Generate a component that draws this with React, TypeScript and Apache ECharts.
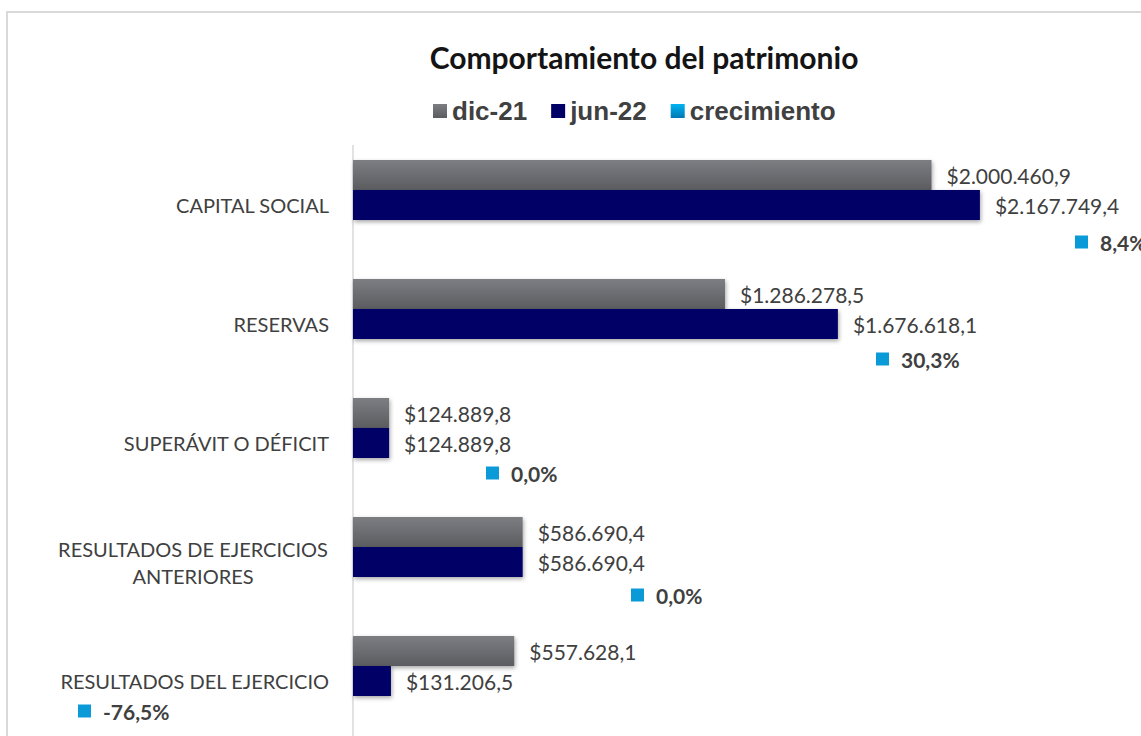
import React, { useEffect, useRef } from "react";
import * as echarts from "echarts";

const categories = [
  "CAPITAL SOCIAL",
  "RESERVAS",
  "SUPERÁVIT O DÉFICIT",
  "RESULTADOS DE EJERCICIOS\nANTERIORES",
  "RESULTADOS DEL EJERCICIO",
];
const dic21 = [2000460.9, 1286278.5, 124889.8, 586690.4, 557628.1];
const jun22 = [2167749.4, 1676618.1, 124889.8, 586690.4, 131206.5];
const growth = [8.4, 30.3, 0.0, 0.0, -76.5];
const seriesNames = ["dic-21", "jun-22", "crecimiento"];
const title = "Comportamiento del patrimonio";

// manual label placement of the growth labels (pixels relative to the bar slot)
const growthLabelPos: [number, number][] = [
  [722, 22],
  [523, 20],
  [133, 15],
  [278, 18],
  [-275, 15],
];

const TEXT = "#404040";

function fmtMoney(v: number): string {
  const [i, d] = v.toFixed(1).split(".");
  return "$" + i.replace(/\B(?=(\d{3})+(?!\d))/g, ".") + "," + d;
}
function fmtPct(v: number): string {
  return v.toFixed(1).replace(".", ",") + "%";
}

export default function App() {
  const ref = useRef<HTMLDivElement>(null);
  useEffect(() => {
    document.body.style.margin = "0";
    const chart = echarts.init(ref.current!, undefined, { renderer: "svg" });
    const grayGrad = new echarts.graphic.LinearGradient(0, 0, 0, 1, [
      { offset: 0, color: "#7c7e82" },
      { offset: 1, color: "#5b5c60" },
    ]);
    const cyanGrad = new echarts.graphic.LinearGradient(0, 0, 0, 1, [
      { offset: 0, color: "#00b4f2" },
      { offset: 1, color: "#0078b4" },
    ]);
    const shadow = {
      shadowBlur: 4,
      shadowColor: "rgba(0,0,0,0.35)",
      shadowOffsetX: 1,
      shadowOffsetY: 2,
    };
    const valueLabel = {
      show: true,
      position: "right" as const,
      distance: 15,
      color: TEXT,
      fontFamily: "Lato",
      fontSize: 21,
      formatter: (p: any) => fmtMoney(p.value),
    };
    chart.setOption({
      animation: false,
      backgroundColor: "#ffffff",
      graphic: [
        {
          type: "rect",
          shape: { x: 7, y: 12, width: 1300, height: 900 },
          style: { fill: "none", stroke: "#d9d9d9", lineWidth: 2 },
          silent: true,
        },
        {
          type: "text",
          x: 644,
          y: 57,
          style: {
            text: title,
            textAlign: "center",
            textVerticalAlign: "middle",
            fontFamily: "Lato",
            fontWeight: "bold",
            fontSize: 30,
            fill: "#141414",
          },
        },
      ],
      legend: {
        left: 433,
        top: 98,
        padding: 0,
        icon: "rect",
        itemWidth: 14,
        itemHeight: 14,
        itemGap: 24,
        textStyle: {
          fontFamily: "Liberation Sans",
          fontWeight: "bold",
          fontSize: 26,
          color: TEXT,
        },
        data: [
          { name: seriesNames[0] },
          { name: seriesNames[1] },
          { name: seriesNames[2], itemStyle: { color: cyanGrad } },
        ],
      },
      grid: { left: 353, width: 723, top: 145.5, height: 595, containLabel: false },
      xAxis: { type: "value", min: 0, max: 2500000, show: false },
      yAxis: {
        type: "category",
        data: categories,
        inverse: true,
        axisLine: { show: true, lineStyle: { color: "#d9d9d9", width: 1.5 } },
        axisTick: { show: false },
        axisLabel: {
          margin: 24,
          color: TEXT,
          fontFamily: "Lato",
          fontSize: 20,
          lineHeight: 27,
          formatter: (v: string) =>
            v.includes("\n") ? v.split("\n").map((s) => `{c|${s}}`).join("\n") : v,
          rich: {
            c: {
              width: 272,
              align: "center",
              color: TEXT,
              fontFamily: "Lato",
              fontSize: 20,
              lineHeight: 27,
            },
          },
        },
      },
      series: [
        {
          name: seriesNames[0],
          type: "bar",
          data: dic21,
          barWidth: 30,
          barGap: "0%",
          itemStyle: { color: grayGrad, ...shadow },
          label: valueLabel,
        },
        {
          name: seriesNames[1],
          type: "bar",
          data: jun22,
          barWidth: 30,
          barGap: "0%",
          itemStyle: { color: "#000066", ...shadow },
          label: valueLabel,
        },
        {
          name: seriesNames[2],
          type: "bar",
          barWidth: 30,
          barGap: "0%",
          itemStyle: { color: "transparent" },
          data: growth.map((g, i) => ({
            value: g,
            label: {
              show: true,
              position: growthLabelPos[i],
              align: "left",
              verticalAlign: "middle",
              formatter: () => `{m|}{t|${fmtPct(g)}}`,
              rich: {
                m: {
                  width: 13,
                  height: 13,
                  backgroundColor: "#0a9ad8",
                },
                t: {
                  padding: [0, 0, 0, 12],
                  fontFamily: "Lato",
                  fontWeight: "bold",
                  fontSize: 21,
                  color: TEXT,
                },
              },
            },
          })),
        },
      ],
    });
    return () => chart.dispose();
  }, []);
  return (
    <div style={{ width: 1141, height: 736, overflow: "hidden", position: "relative" }}>
      <div ref={ref} style={{ width: 1141, height: 760 }} />
    </div>
  );
}
